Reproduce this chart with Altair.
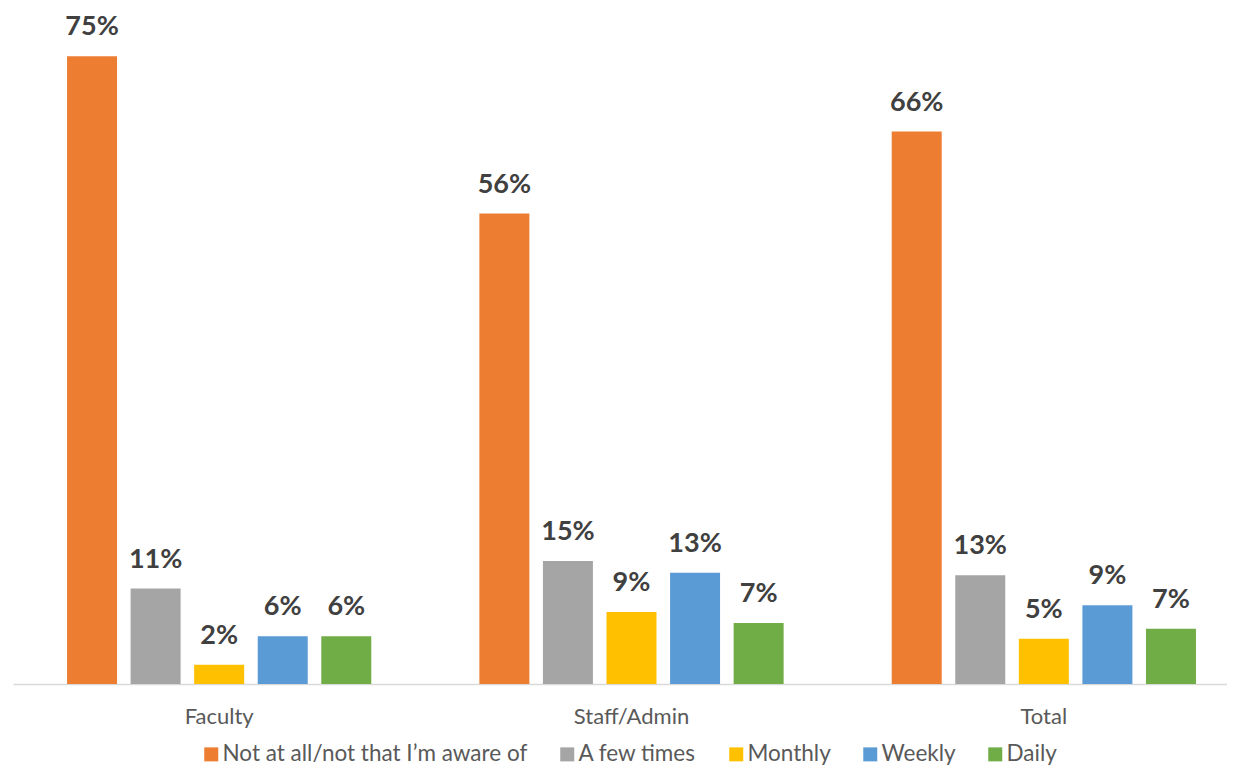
import altair as alt
import pandas as pd

groups = ["Faculty", "Staff/Admin", "Total"]
series = ["Not at all/not that I\u2019m aware of", "A few times", "Monthly", "Weekly", "Daily"]
colors = ["#ED7D31", "#A5A5A5", "#FFC000", "#5B9BD5", "#70AD47"]

faculty = [0.750, 0.114, 0.023, 0.057, 0.057]
staff_admin = [0.562, 0.147, 0.086, 0.133, 0.073]
total = [0.660, 0.130, 0.054, 0.094, 0.066]

rows = []
for g, vals in zip(groups, [faculty, staff_admin, total]):
    for i, (s, v) in enumerate(zip(series, vals)):
        rows.append({"group": g, "series": s, "order": i, "value": v})
df = pd.DataFrame(rows)

FONT = "Lato"

base = alt.Chart(df).encode(
    x=alt.X("group:N", sort=groups, title=None,
            scale=alt.Scale(domain=groups, range=[0, 1237], paddingInner=0, paddingOuter=0),
            axis=alt.Axis(labelAngle=0, labelFontSize=22, labelColor="#595959", labelFont=FONT,
                          labelPadding=22, ticks=False, domainColor="#D9D9D9", domainWidth=1.5)),
    xOffset=alt.XOffset("series:N", sort=series,
                        scale=alt.Scale(paddingInner=0.213, paddingOuter=0.85)),
    y=alt.Y("value:Q", axis=None, scale=alt.Scale(domain=[0, 0.8076])),
)

bars = base.mark_bar(size=50).encode(
    color=alt.Color("series:N", sort=series,
                    scale=alt.Scale(domain=series, range=colors),
                    legend=alt.Legend(title=None, orient="none", legendX=187, legendY=735,
                                      direction="horizontal", columns=5, symbolType="square",
                                      symbolSize=196, symbolStrokeWidth=0, labelFontSize=22.5,
                                      labelFont=FONT, labelColor="#595959", labelOffset=0,
                                      labelLimit=500, columnPadding=28))
)

labels = base.mark_text(dy=-21, fontSize=27, fontWeight="bold", font=FONT,
                        color="#404040", baseline="alphabetic").encode(
    text=alt.Text("value:Q", format=".0%")
)

chart = alt.layer(bars, labels).properties(
    width=1212, height=676,
    padding={"left": 5, "top": 0, "right": 2, "bottom": 83},
    autosize=alt.AutoSizeParams(type="none"),
).configure_view(stroke=None)

chart.save("out.html", embed_options={"renderer": "svg", "actions": False})
